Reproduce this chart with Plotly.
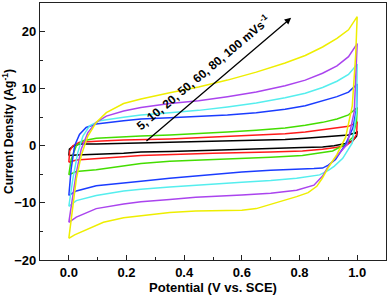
import plotly.graph_objects as go

# ---- data (potential V vs SCE, current density A/g) ----
SCAN_RATES = [5, 10, 20, 50, 60, 80, 100]
COLORS = ["#000000", "#ff1a1a", "#44dd00", "#1a3cff", "#55eeee", "#aa44ee", "#eeee00"]

# forward (anodic) sweeps 0 -> 1 V
V5_FWD_E = [0, 0.002, 0.014, 0.037, 0.095, 0.19, 0.35, 0.5, 0.65, 0.75, 0.82, 0.88, 0.93, 0.97, 1.0]
V5_FWD_I = [-1.7, -0.6, -0.1, 0.3, 0.3, 0.4, 0.6, 0.8, 1.0, 1.1, 1.3, 1.5, 1.7, 1.9, 2.4]
V10_FWD_E = [0, 0.003, 0.014, 0.037, 0.095, 0.19, 0.35, 0.5, 0.65, 0.75, 0.82, 0.88, 0.93, 0.97, 1.0]
V10_FWD_I = [-2.9, -0.9, 0.0, 0.6, 0.8, 1.0, 1.2, 1.5, 1.8, 2.1, 2.4, 2.8, 3.1, 3.4, 4.1]
V20_FWD_E = [0, 0.008, 0.026, 0.049, 0.095, 0.19, 0.25, 0.35, 0.45, 0.55, 0.65, 0.75, 0.82, 0.88, 0.93, 0.97, 1.0]
V20_FWD_I = [-5.1, -2.4, 0.0, 0.9, 1.3, 1.6, 1.7, 1.9, 2.1, 2.4, 2.7, 3.1, 3.6, 4.1, 4.7, 5.4, 6.7]
V50_FWD_E = [0, 0.008, 0.02, 0.037, 0.06, 0.095, 0.19, 0.25, 0.35, 0.45, 0.55, 0.65, 0.75, 0.82, 0.88, 0.93, 0.97, 1.0]
V50_FWD_I = [-8.7, -4.1, 0.0, 2.0, 3.2, 3.8, 4.4, 4.7, 4.9, 5.1, 5.4, 5.8, 6.4, 7.0, 7.8, 8.6, 9.4, 10.8]
V60_FWD_E = [0, 0.014, 0.031, 0.049, 0.072, 0.107, 0.19, 0.25, 0.35, 0.45, 0.55, 0.65, 0.75, 0.82, 0.88, 0.93, 0.97, 1.0]
V60_FWD_I = [-10.6, -5.8, -1.2, 1.7, 3.5, 4.4, 5.0, 5.4, 5.8, 6.2, 6.8, 7.5, 8.4, 9.2, 10.2, 11.3, 12.5, 14.3]
V80_FWD_E = [0, 0.014, 0.026, 0.043, 0.066, 0.095, 0.13, 0.19, 0.25, 0.35, 0.45, 0.55, 0.65, 0.75, 0.82, 0.88, 0.93, 0.97, 1.0]
V80_FWD_I = [-13.4, -8.7, -4.7, -0.6, 2.3, 4.1, 5.2, 6.1, 6.7, 7.4, 7.9, 8.6, 9.4, 10.5, 11.5, 12.7, 14.0, 15.6, 17.9]
V100_FWD_E = [0, 0.014, 0.026, 0.043, 0.066, 0.095, 0.13, 0.19, 0.25, 0.35, 0.45, 0.55, 0.65, 0.75, 0.82, 0.88, 0.93, 0.97, 1.0]
V100_FWD_I = [-16.2, -10.5, -5.8, -1.7, 1.7, 4.1, 5.8, 7.4, 8.2, 9.3, 10.3, 11.5, 12.9, 14.5, 15.8, 17.3, 18.8, 20.3, 22.6]

# reverse (cathodic) sweeps 1 -> 0 V
V5_REV_E = [1.0, 0.998, 0.985, 0.96, 0.92, 0.88, 0.81, 0.7, 0.5, 0.35, 0.25, 0.19, 0.095, 0.026, 0]
V5_REV_I = [2.4, 1.7, 0.9, 0.4, 0.0, -0.2, -0.3, -0.5, -0.8, -1.0, -1.1, -1.3, -1.4, -1.6, -1.7]
V10_REV_E = [1.0, 0.998, 0.985, 0.96, 0.925, 0.88, 0.81, 0.7, 0.5, 0.35, 0.25, 0.19, 0.095, 0.026, 0]
V10_REV_I = [4.1, 2.0, 0.9, 0.0, -0.3, -0.6, -0.9, -1.1, -1.3, -1.5, -1.7, -1.9, -2.2, -2.5, -2.9]
V20_REV_E = [1.0, 0.998, 0.985, 0.96, 0.915, 0.88, 0.81, 0.7, 0.6, 0.44, 0.35, 0.25, 0.19, 0.095, 0.026, 0]
V20_REV_I = [6.7, 4.4, 1.5, 0.3, -0.9, -1.2, -1.7, -2.0, -2.2, -2.5, -2.7, -3.1, -3.5, -4.2, -4.5, -5.1]
V50_REV_E = [1.0, 0.998, 0.985, 0.96, 0.925, 0.9, 0.88, 0.85, 0.79, 0.7, 0.6, 0.5, 0.44, 0.35, 0.25, 0.19, 0.095, 0.026, 0]
V50_REV_I = [10.8, 6.6, 3.1, 0.3, -2.4, -3.4, -3.9, -4.0, -4.1, -4.3, -4.6, -5.0, -5.3, -5.7, -6.2, -6.5, -7.0, -7.9, -8.7]
V60_REV_E = [1.0, 0.998, 0.983, 0.95, 0.92, 0.9, 0.87, 0.79, 0.7, 0.6, 0.5, 0.44, 0.35, 0.25, 0.19, 0.095, 0.026, 0]
V60_REV_I = [14.3, 6.0, 0.5, -2.2, -3.6, -4.3, -5.1, -5.7, -6.1, -6.4, -6.7, -6.9, -7.2, -7.6, -7.9, -8.7, -9.6, -10.6]
V80_REV_E = [1.0, 0.99, 0.966, 0.93, 0.9, 0.88, 0.85, 0.79, 0.7, 0.6, 0.5, 0.44, 0.35, 0.25, 0.19, 0.095, 0.026, 0]
V80_REV_I = [17.9, 6.0, 0.3, -1.8, -3.6, -5.3, -6.9, -7.8, -8.3, -8.6, -8.8, -9.0, -9.4, -9.8, -10.2, -11.0, -12.5, -13.4]
V100_REV_E = [1.0, 0.995, 0.983, 0.96, 0.93, 0.9, 0.88, 0.86, 0.83, 0.79, 0.75, 0.71, 0.65, 0.6, 0.5, 0.44, 0.35, 0.25, 0.19, 0.12, 0.05, 0.02, 0]
V100_REV_I = [22.6, 16.0, 7.0, 1.5, -1.5, -3.8, -5.6, -7.1, -8.2, -8.9, -9.5, -10.2, -11.0, -11.3, -11.4, -11.4, -11.7, -12.2, -12.6, -13.4, -14.9, -15.6, -16.2]

FWD_E = [V5_FWD_E, V10_FWD_E, V20_FWD_E, V50_FWD_E, V60_FWD_E, V80_FWD_E, V100_FWD_E]
FWD_I = [V5_FWD_I, V10_FWD_I, V20_FWD_I, V50_FWD_I, V60_FWD_I, V80_FWD_I, V100_FWD_I]
REV_E = [V5_REV_E, V10_REV_E, V20_REV_E, V50_REV_E, V60_REV_E, V80_REV_E, V100_REV_E]
REV_I = [V5_REV_I, V10_REV_I, V20_REV_I, V50_REV_I, V60_REV_I, V80_REV_I, V100_REV_I]

X_TICKS = [0.0, 0.2, 0.4, 0.6, 0.8, 1.0]
X_TICK_TEXT = ["0.0", "0.2", "0.4", "0.6", "0.8", "1.0"]
Y_TICKS = [-20, -10, 0, 10, 20]
ARROW_TAIL = (0.264, 0.6)
ARROW_HEAD = (0.771, 22.4)
LABEL_POS = (0.466, 12.9)
LABEL_TEXT = "5, 10, 20, 50, 60, 80, 100 mVs<sup>-1</sup>"

FONT = "Arial, 'Liberation Sans', sans-serif"

fig = go.Figure()
for e_f, i_f, e_r, i_r, col, rate in zip(FWD_E, FWD_I, REV_E, REV_I, COLORS, SCAN_RATES):
    fig.add_trace(go.Scatter(
        x=e_f + e_r[1:], y=i_f + i_r[1:], mode="lines",
        line=dict(color=col, width=1.5), name=f"{rate} mV/s", showlegend=False,
    ))

fig.add_annotation(
    x=ARROW_HEAD[0], y=ARROW_HEAD[1], ax=ARROW_TAIL[0], ay=ARROW_TAIL[1],
    xref="x", yref="y", axref="x", ayref="y", text="", showarrow=True,
    arrowhead=2, arrowsize=1, arrowwidth=1.3, arrowcolor="black",
)
fig.add_annotation(
    x=LABEL_POS[0], y=LABEL_POS[1], xref="x", yref="y", text=LABEL_TEXT,
    showarrow=False, textangle=-40, font=dict(family=FONT, size=12, color="black", weight="bold"),
)

axis_common = dict(
    showline=True, linecolor="#222", linewidth=1.3, mirror=True,
    ticks="inside", ticklen=5, tickwidth=1.2, tickcolor="#222",
    showgrid=False, zeroline=False,
    tickfont=dict(family=FONT, size=13, color="black", weight="bold"),
)
fig.update_xaxes(
    range=[-0.1, 1.1], tickvals=X_TICKS, ticktext=X_TICK_TEXT,
    minor=dict(ticks="inside", ticklen=3, dtick=0.1, tick0=0, tickcolor="#222", tickwidth=1.1),
    title=dict(text="Potential (V vs. SCE)", font=dict(family=FONT, size=13, color="black", weight="bold"), standoff=0),
    **axis_common,
)
fig.update_yaxes(
    range=[-20, 25], tickvals=Y_TICKS,
    minor=dict(ticks="inside", ticklen=3, dtick=5, tick0=0, tickcolor="#222", tickwidth=1.1),
    title=dict(text="Current Density (Ag<sup>-1</sup>)", font=dict(family=FONT, size=12, color="black", weight="bold"), standoff=3),
    **axis_common,
)
fig.update_layout(
    width=388, height=296, margin=dict(l=40, r=2, t=3, b=36),
    paper_bgcolor="white", plot_bgcolor="white",
)
fig.write_html(
    "out.html",
    config={"displayModeBar": False},
    post_script="document.body.style.margin='0';document.documentElement.style.margin='0';",
)
